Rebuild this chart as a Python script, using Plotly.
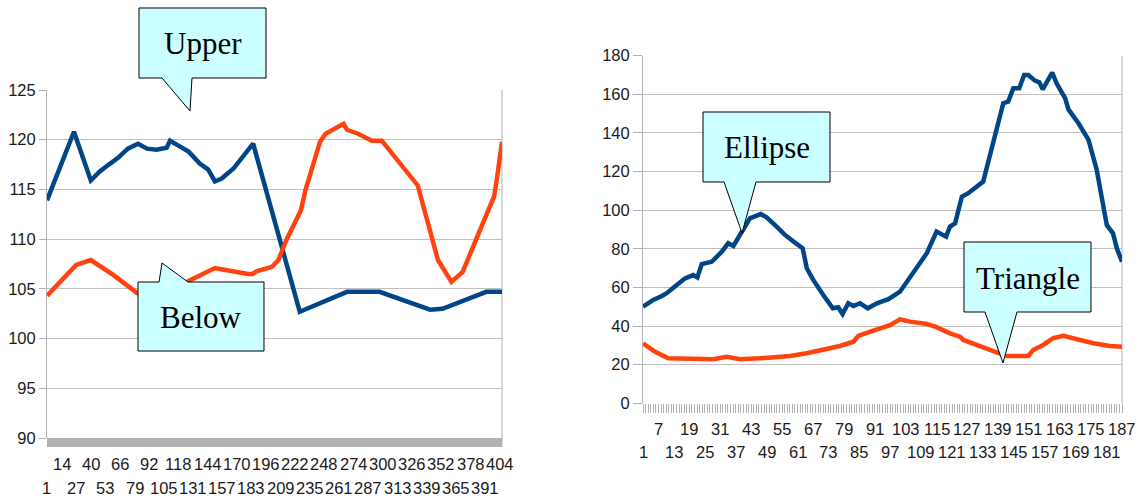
import plotly.graph_objects as go

W, H = 1142, 498

# ---------------- Left chart data (category index, value) ----------------
left_upper_x = [1, 25, 40, 48, 56, 64.5, 73, 82, 90, 98.5, 107.5, 110.5, 118, 127,
                137, 144.5, 150.5, 156.5, 167, 177, 184.5, 226, 268, 297, 342, 353, 392, 406]
left_upper_y = [113.9, 120.8, 115.9, 116.8, 117.5, 118.2, 119.1, 119.6, 119.1, 119.0,
                119.2, 119.9, 119.4, 118.8, 117.6, 117.0, 115.8, 116.1, 117.1, 118.5,
                119.6, 102.7, 104.7, 104.7, 102.9, 103.0, 104.7, 104.7]

left_below_x = [1, 27, 40, 60, 81, 95, 112, 127, 150.5, 167, 180, 184, 188, 201, 207,
                214, 227, 231, 238, 244, 249, 265, 268, 278, 290, 299, 331, 349, 361,
                371, 389, 399, 402, 406]
left_below_y = [104.3, 107.4, 107.9, 106.4, 104.6, 104.2, 104.8, 105.8, 107.1, 106.7,
                106.5, 106.5, 106.8, 107.2, 107.9, 109.9, 112.9, 114.9, 117.6, 119.8,
                120.6, 121.6, 121.0, 120.6, 119.9, 119.9, 115.4, 107.9, 105.7, 106.7,
                111.6, 114.3, 116.5, 119.8]

left_ticks_row1 = [14, 40, 66, 92, 118, 144, 170, 196, 222, 248, 274, 300, 326, 352, 378, 404]
left_ticks_row2 = [1, 27, 53, 79, 105, 131, 157, 183, 209, 235, 261, 287, 313, 339, 365, 391]
left_yticks = [90, 95, 100, 105, 110, 115, 120, 125]

# ---------------- Right chart data ----------------
right_ellipse_x = [1, 5, 8.3, 10.2, 14.1, 17.3, 20.5, 22.1, 23.8, 27.7, 31.6, 34.1, 36.1,
                   38.7, 42.5, 46.7, 49, 52.9, 56.1, 60, 63, 64.6, 67.1, 71, 74.7, 76.8,
                   78.5, 80.7, 82.7, 85.3, 88.3, 91.8, 96.3, 100.8, 105.9, 111.2, 115,
                   118.7, 120.2, 122.2, 124.8, 127.3, 133.1, 137.7, 140.9, 142.8, 144.8,
                   147.1, 149, 150.6, 153.2, 154.9, 156.2, 159.9, 161.6, 164.9, 166.2,
                   170.1, 174, 177.2, 181.1, 183.5, 185, 187]
right_ellipse_y = [50.0, 53.5, 55.6, 57.0, 61.3, 64.7, 66.4, 65.2, 72.1, 73.3, 78.5, 82.9,
                   81.5, 87.2, 95.8, 98.0, 96.3, 91.5, 87.2, 83.2, 80.3, 69.9, 63.9, 56.1,
                   49.2, 49.7, 46.2, 51.8, 50.4, 51.8, 49.2, 51.8, 53.9, 57.8, 67.3, 77.7,
                   88.9, 86.3, 91.5, 93.2, 107.0, 108.8, 114.8, 139.8, 155.4, 156.2, 163.1,
                   163.1, 170.0, 170.0, 167.1, 166.2, 162.6, 171.2, 165.7, 158.0, 152.2,
                   145.0, 136.4, 120.8, 92.3, 88.0, 80.3, 73.3]

right_triangle_x = [1, 5.7, 10.8, 19.3, 28.3, 33.5, 38.7, 46.4, 58.1, 64.6, 72.3, 77.5,
                    82.7, 84.6, 90.4, 96.9, 100.8, 104.7, 111.2, 115, 120.2, 124.1, 125.4,
                    131.9, 138.3, 142.2, 150.6, 152.5, 156.4, 160.3, 164.2, 169.4, 175.9,
                    182.3, 187]
right_triangle_y = [31.1, 26.7, 23.3, 22.8, 22.8, 24.1, 22.8, 23.3, 24.5, 25.9, 28.0, 29.7,
                    31.9, 34.9, 37.6, 40.5, 43.5, 42.3, 41.1, 39.4, 36.2, 34.5, 32.8, 29.7,
                    26.4, 24.5, 24.5, 27.6, 30.2, 33.7, 34.9, 33.1, 31.1, 29.7, 29.3]

right_ticks_row1 = [7, 19, 31, 43, 55, 67, 79, 91, 103, 115, 127, 139, 151, 163, 175, 187]
right_ticks_row2 = [1, 13, 25, 37, 49, 61, 73, 85, 97, 109, 121, 133, 145, 157, 169, 181]
right_yticks = [0, 20, 40, 60, 80, 100, 120, 140, 160, 180]
right_categories = list(range(1, 188))

callout_labels = ["Upper", "Below", "Ellipse", "Triangle"]

BLUE = "#004586"
ORANGE = "#ff420e"
GRID = "#c0c0c0"
AXIS = "#b3b3b3"
TXT = "#1a1a1a"
SANS = "Liberation Sans, Arial, sans-serif"
SERIF = "Liberation Serif, Times New Roman, serif"


def px(x):
    return x / W


def py(y):
    return 1 - y / H


fig = go.Figure()

fig.add_trace(go.Scatter(x=left_upper_x, y=left_upper_y, mode="lines",
                         line=dict(color=BLUE, width=4.5), xaxis="x", yaxis="y",
                         showlegend=False, hoverinfo="skip"))
fig.add_trace(go.Scatter(x=left_below_x, y=left_below_y, mode="lines",
                         line=dict(color=ORANGE, width=4.5), xaxis="x", yaxis="y",
                         showlegend=False, hoverinfo="skip"))
fig.add_trace(go.Scatter(x=right_ellipse_x, y=right_ellipse_y, mode="lines",
                         line=dict(color=BLUE, width=4.5), xaxis="x2", yaxis="y2",
                         showlegend=False, hoverinfo="skip"))
fig.add_trace(go.Scatter(x=right_triangle_x, y=right_triangle_y, mode="lines",
                         line=dict(color=ORANGE, width=4.5), xaxis="x2", yaxis="y2",
                         showlegend=False, hoverinfo="skip"))

tickfont = dict(family=SANS, size=16.5, color=TXT)

fig.update_layout(
    template="none",
    width=W, height=H,
    margin=dict(l=0, r=0, t=0, b=0, pad=0, autoexpand=False),
    paper_bgcolor="white", plot_bgcolor="white",
    xaxis=dict(domain=[px(47), px(502)], range=[1, 406], showgrid=False,
               zeroline=False, showticklabels=False, ticks="", showline=False,
               fixedrange=True, automargin=False),
    yaxis=dict(domain=[py(438), py(90)], range=[90, 125], tickvals=left_yticks,
               showgrid=True, gridcolor=GRID, gridwidth=1, zeroline=False,
               showline=True, linecolor=AXIS, linewidth=1, ticks="outside",
               ticklen=7, tickcolor=AXIS, tickwidth=1, tickfont=tickfont,
               fixedrange=True, automargin=False),
    xaxis2=dict(domain=[px(643), px(1122)], range=[1, 187], showgrid=False,
                zeroline=False, showticklabels=False, ticks="outside",
                tickvals=right_categories, ticklen=9, tickcolor=AXIS, tickwidth=1,
                showline=False, anchor="y2", fixedrange=True, automargin=False),
    yaxis2=dict(domain=[py(403.3), py(55.7)], range=[0, 180], tickvals=right_yticks,
                showgrid=True, gridcolor=GRID, gridwidth=1, zeroline=False,
                showline=True, linecolor=AXIS, linewidth=1, ticks="outside",
                ticklen=9, tickcolor=AXIS, tickwidth=1, tickfont=tickfont, anchor="x2",
                fixedrange=True, automargin=False),
)

shapes = []
# left chart floor band and right wall borders
shapes.append(dict(type="rect", xref="paper", yref="paper", x0=px(47), x1=px(502),
                   y0=py(447), y1=py(438), fillcolor="#b3b3b3", line=dict(width=0),
                   layer="below"))
shapes.append(dict(type="line", xref="paper", yref="paper", x0=px(502), x1=px(502),
                   y0=py(447), y1=py(90), line=dict(color=AXIS, width=1), layer="below"))
shapes.append(dict(type="line", xref="paper", yref="paper", x0=px(1122), x1=px(1122),
                   y0=py(403.3), y1=py(55.7), line=dict(color=AXIS, width=1), layer="below"))


def poly(points):
    return "M " + " L ".join(f"{px(a):.5f},{py(b):.5f}" for a, b in points) + " Z"


callout_polys = [
    [(139, 8), (266, 8), (266, 78), (192, 78), (190, 111), (162, 78), (139, 78)],
    [(138, 282), (159, 282), (162, 263), (188, 282), (264, 282), (264, 351), (138, 351)],
    [(703, 112), (830, 112), (830, 182), (756, 182), (742, 233), (724, 182), (703, 182)],
    [(964, 242), (1091, 242), (1091, 312), (1017, 312), (1003, 363), (985, 312), (964, 312)],
]
callout_centers = [(202.5, 44), (201, 317), (766.5, 148), (1027.5, 278)]

for pts in callout_polys:
    shapes.append(dict(type="path", xref="paper", yref="paper", path=poly(pts),
                       fillcolor="#ccffff", line=dict(color="black", width=1),
                       layer="above"))

annotations = []
for label, (cx, cy) in zip(callout_labels, callout_centers):
    annotations.append(dict(text=label, x=px(cx), y=py(cy), xref="paper", yref="paper",
                            showarrow=False, xanchor="center", yanchor="middle",
                            font=dict(family=SERIF, size=31, color="black")))

for v in left_ticks_row1:
    annotations.append(dict(text=str(v), x=v, y=py(464), xref="x", yref="paper",
                            showarrow=False, xanchor="center", yanchor="middle",
                            font=tickfont))
for v in left_ticks_row2:
    annotations.append(dict(text=str(v), x=v, y=py(488), xref="x", yref="paper",
                            showarrow=False, xanchor="center", yanchor="middle",
                            font=tickfont))
for v in right_ticks_row1:
    annotations.append(dict(text=str(v), x=v, y=py(429), xref="x2", yref="paper",
                            showarrow=False, xanchor="center", yanchor="middle",
                            font=tickfont))
for v in right_ticks_row2:
    annotations.append(dict(text=str(v), x=v, y=py(452), xref="x2", yref="paper",
                            showarrow=False, xanchor="center", yanchor="middle",
                            font=tickfont))

fig.update_layout(shapes=shapes, annotations=annotations)

fig.write_html("out.html", config={"displayModeBar": False},
               post_script="document.body.style.margin='0px';document.body.style.overflow='hidden';")
